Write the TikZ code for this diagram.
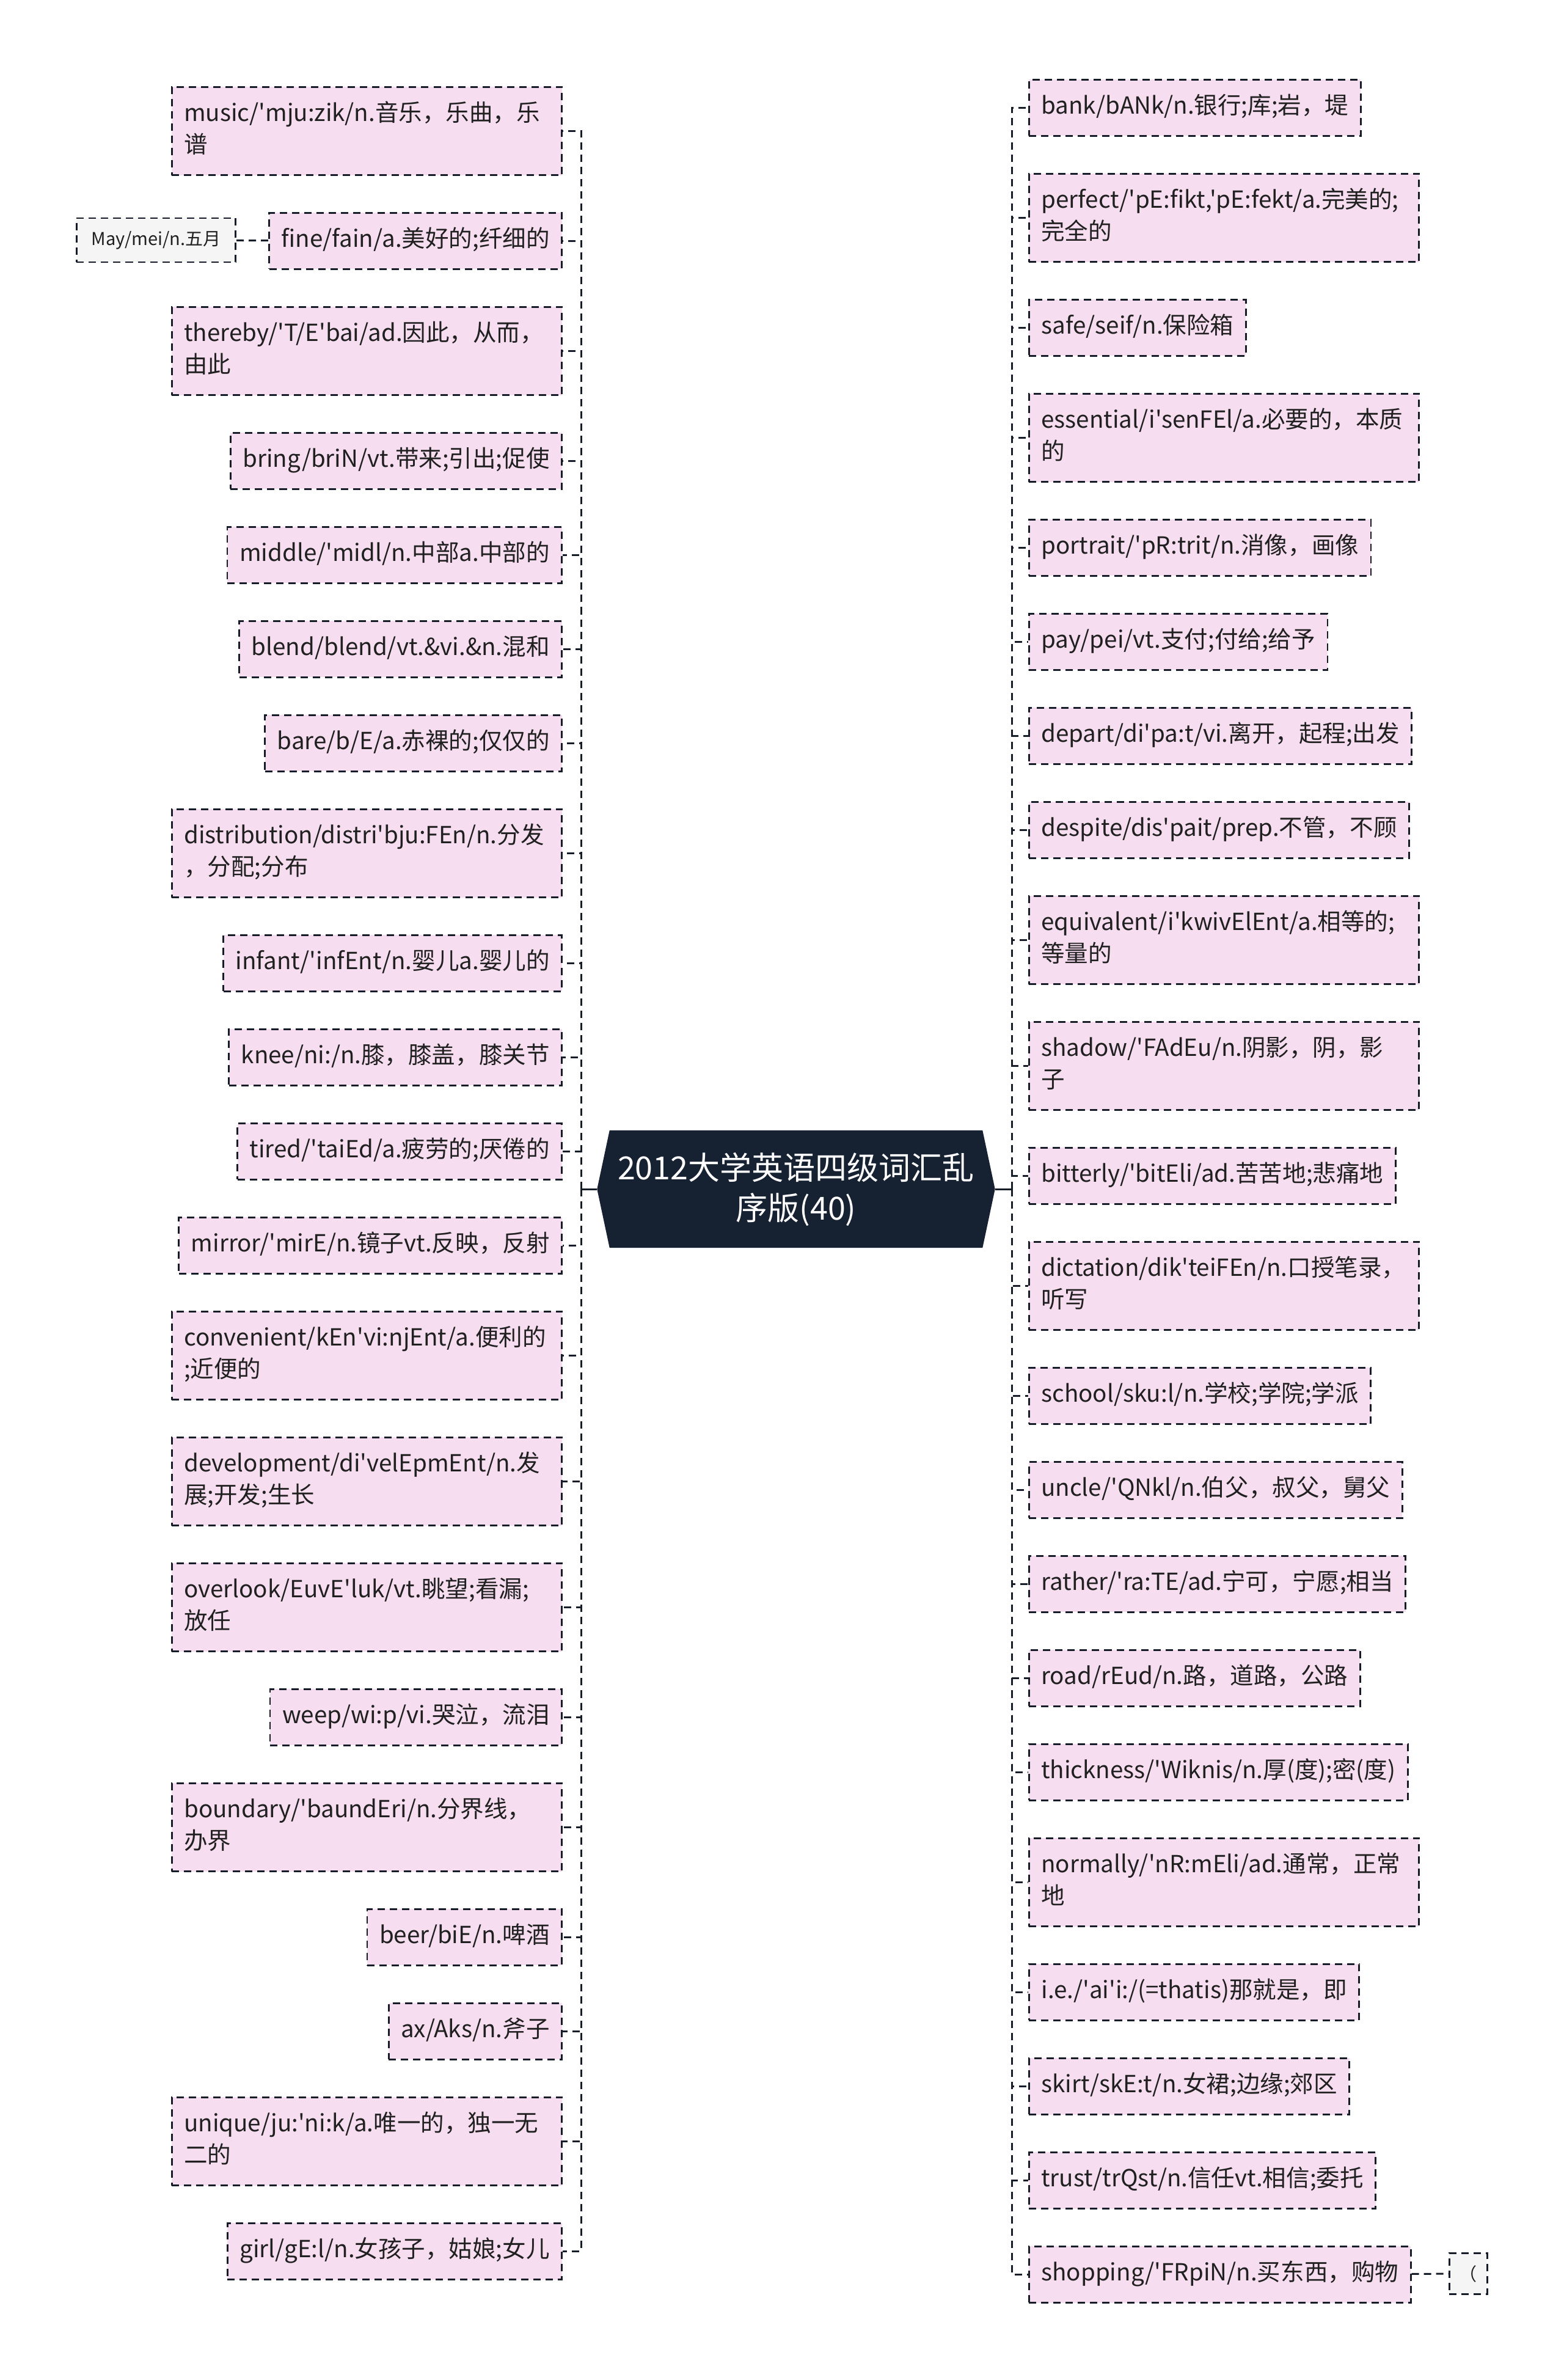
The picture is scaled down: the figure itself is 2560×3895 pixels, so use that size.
\documentclass[tikz,border=0pt]{standalone}
\usepackage{fontspec}
\newfontfamily\cjkfont{Noto Sans CJK SC}
\usetikzlibrary{shapes.symbols}
\definecolor{leafpink}{RGB}{246,221,240}
\definecolor{edgeink}{RGB}{22,28,40}
\definecolor{rootnavy}{RGB}{22,33,50}
\definecolor{textink}{RGB}{32,32,32}
\definecolor{tagfill}{RGB}{245,245,245}
\newcommand{\leaffont}{\cjkfont\fontsize{0.385cm}{0.52cm}\selectfont}
\newcommand{\tagfont}{\cjkfont\fontsize{0.29cm}{0.4cm}\selectfont}
\newcommand{\hubfont}{\cjkfont\fontsize{0.52cm}{0.66cm}\selectfont}

\tikzset{
  box/.style={draw=edgeink, line width=0.028cm, dash pattern=on 0.12cm off 0.08cm,
    inner xsep=0.2cm, inner ysep=0.2cm, align=left, text=textink},
  leaf/.style={box, fill=leafpink, font=\leaffont,
    execute at begin node=\strut, execute at end node=\strut},
  leafw/.style={leaf, text width=5.98cm},
  tag/.style={box, fill=tagfill, font=\tagfont, minimum height=0.72cm},
  link/.style={draw=edgeink, line width=0.03cm, dash pattern=on 0.12cm off 0.08cm},
  stem/.style={draw=edgeink, line width=0.03cm},
  hub/.style={shape=signal, signal to=west and east, signal pointer angle=156,
    fill=rootnavy, text=white, font=\hubfont, align=center,
    minimum width=6.51cm, minimum height=1.92cm, inner sep=0pt}
}

\begin{document}
\begin{tikzpicture}[x=0.01cm, y=-0.01cm]
\useasboundingbox (0,0) rectangle (2560,3895);

% centre
\node[hub] (root) at (1303,1946) {2012大学英语四级词汇乱\\序版(40)};
\coordinate (lt) at (951,1946);
\coordinate (rt) at (1656,1946);
\draw[stem] (root.west) -- (lt);
\draw[stem] (root.east) -- (rt);

% left words
\foreach \ty/\sty/\txt [count=\i] in {
  141/leafw/{music/'mju:zik/n.音乐，乐曲，乐\\谱},
  347/leaf/{fine/fain/a.美好的;纤细的},
  501/leafw/{thereby/'T/E'bai/ad.因此，从而，\\由此},
  707/leaf/{bring/briN/vt.带来;引出;促使},
  861/leaf/{middle/'midl/n.中部a.中部的},
  1015/leaf/{blend/blend/vt.\&vi.\&n.混和},
  1169/leaf/{bare/b/E/a.赤裸的;仅仅的},
  1323/leafw/{distribution/distri'bju:FEn/n.分发\\，分配;分布},
  1529/leaf/{infant/'infEnt/n.婴儿a.婴儿的},
  1683/leaf/{knee/ni:/n.膝，膝盖，膝关节},
  1837/leaf/{tired/'taiEd/a.疲劳的;厌倦的},
  1991/leaf/{mirror/'mirE/n.镜子vt.反映，反射},
  2145/leafw/{convenient/kEn'vi:njEnt/a.便利的\\;近便的},
  2351/leafw/{development/di'velEpmEnt/n.发\\展;开发;生长},
  2557/leafw/{overlook/EuvE'luk/vt.眺望;看漏;\\放任},
  2763/leaf/{weep/wi:p/vi.哭泣，流泪},
  2917/leafw/{boundary/'baundEri/n.分界线，\\办界},
  3123/leaf/{beer/biE/n.啤酒},
  3277/leaf/{ax/Aks/n.斧子},
  3431/leafw/{unique/ju:'ni:k/a.唯一的，独一无\\二的},
  3637/leaf/{girl/gE:l/n.女孩子，姑娘;女儿}}{
  \node[\sty, anchor=north east] (l\i) at (921,\ty) {\txt};
  \draw[link] (lt) |- (l\i.east);
}

% right words
\foreach \ty/\sty/\txt [count=\i] in {
  129/leaf/{bank/bANk/n.银行;库;岩，堤},
  283/leafw/{perfect/'pE:fikt,'pE:fekt/a.完美的;\\完全的},
  489/leaf/{safe/seif/n.保险箱},
  643/leafw/{essential/i'senFEl/a.必要的，本质\\的},
  849/leaf/{portrait/'pR:trit/n.消像，画像},
  1003/leaf/{pay/pei/vt.支付;付给;给予},
  1157/leaf/{depart/di'pa:t/vi.离开，起程;出发},
  1311/leaf/{despite/dis'pait/prep.不管，不顾},
  1465/leafw/{equivalent/i'kwivElEnt/a.相等的;\\等量的},
  1671/leafw/{shadow/'FAdEu/n.阴影，阴，影\\子},
  1877/leaf/{bitterly/'bitEli/ad.苦苦地;悲痛地},
  2031/leafw/{dictation/dik'teiFEn/n.口授笔录，\\听写},
  2237/leaf/{school/sku:l/n.学校;学院;学派},
  2391/leaf/{uncle/'QNkl/n.伯父，叔父，舅父},
  2545/leaf/{rather/'ra:TE/ad.宁可，宁愿;相当},
  2699/leaf/{road/rEud/n.路，道路，公路},
  2853/leaf/{thickness/'Wiknis/n.厚(度);密(度)},
  3007/leafw/{normally/'nR:mEli/ad.通常，正常\\地},
  3213/leaf/{i.e./'ai'i:/(=thatis)那就是，即},
  3367/leaf/{skirt/skE:t/n.女裙;边缘;郊区},
  3521/leaf/{trust/trQst/n.信任vt.相信;委托},
  3675/leaf/{shopping/'FRpiN/n.买东西，购物}}{
  \node[\sty, anchor=north west] (r\i) at (1683,\ty) {\txt};
  \draw[link] (rt) |- (r\i.west);
}

% side notes
\node[tag, anchor=east, minimum width=2.6cm] (may) at (387,393) {May/mei/n.五月};
\draw[link] (may) -- (l2);
\node[tag, anchor=west, inner xsep=0.1cm, minimum width=0.62cm, minimum height=0.67cm] (paren) at (2371,3721) {（};
\draw[link] (r22) -- (paren);

\end{tikzpicture}
\end{document}
